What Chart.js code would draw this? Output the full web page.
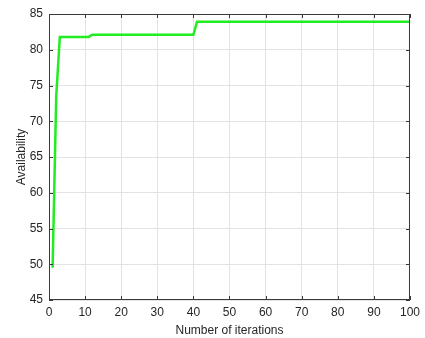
<!DOCTYPE html>
<html>
<head>
<meta charset="utf-8">
<script src="https://cdn.jsdelivr.net/npm/chart.js@4/dist/chart.umd.min.js"></script>
<style>
  html, body { margin: 0; padding: 0; background: #fff; }
  #wrap { width: 425px; height: 338px; }
</style>
</head>
<body>
<div id="wrap"><canvas id="chart"></canvas></div>
<script>
// breakpoints of the convergence curve
const iterations = [1, 2, 3, 11, 12, 40, 41, 100]
const availability = [49.5, 73.5, 81.8, 81.8, 82.1, 82.1, 83.9, 83.9]

const xTicks = [0, 10, 20, 30, 40, 50, 60, 70, 80, 90, 100]
const yTicks = [45, 50, 55, 60, 65, 70, 75, 80, 85]

const axisColor = '#3a3a3a'
const textColor = '#262626'
const gridColor = '#e3e3e3'
const font = { family: '"Liberation Sans", Arial, sans-serif', size: 12 }

// matlab style box: all four edges plus inward tick marks
const boxPlugin = {
  id: 'box',
  afterDraw (chart) {
    const { ctx, chartArea: a, scales } = chart
    ctx.save()
    ctx.strokeStyle = axisColor
    ctx.lineWidth = 1
    ctx.strokeRect(a.left + 0.5, a.top + 0.5, a.right - a.left - 1, a.bottom - a.top - 1)
    ctx.beginPath()
    xTicks.forEach(v => {
      const px = Math.round(scales.x.getPixelForValue(v)) + 0.5
      ctx.moveTo(px, a.bottom); ctx.lineTo(px, a.bottom - 4)
      ctx.moveTo(px, a.top); ctx.lineTo(px, a.top + 4)
    })
    yTicks.forEach(v => {
      const py = Math.round(scales.y.getPixelForValue(v)) + 0.5
      ctx.moveTo(a.left, py); ctx.lineTo(a.left + 4, py)
      ctx.moveTo(a.right, py); ctx.lineTo(a.right - 4, py)
    })
    ctx.stroke()
    ctx.restore()
  }
}

new Chart(document.getElementById('chart'), {
  type: 'line',
  data: {
    datasets: [{
      data: iterations.map((x, i) => ({ x, y: availability[i] })),
      borderColor: '#22ec22',
      borderWidth: 2.5,
      pointRadius: 0,
      tension: 0,
      fill: false
    }]
  },
  options: {
    responsive: true,
    maintainAspectRatio: false,
    animation: false,
    layout: { padding: { top: 14, right: 13, left: 0, bottom: 0 } },
    plugins: {
      legend: { display: false },
      tooltip: { enabled: false }
    },
    scales: {
      x: {
        type: 'linear',
        min: 0,
        max: 100,
        afterFit (scale) { scale.height = 38 },
        afterBuildTicks (scale) { scale.ticks = xTicks.map(value => ({ value })) },
        grid: { color: gridColor, drawTicks: false },
        border: { display: false },
        ticks: { color: textColor, font, padding: 5, maxRotation: 0 },
        title: { display: true, text: 'Number of iterations', color: textColor, font, padding: { top: 3, bottom: 0 } }
      },
      y: {
        min: 45,
        max: 85,
        afterFit (scale) { scale.width = 49 },
        afterBuildTicks (scale) { scale.ticks = yTicks.map(value => ({ value })) },
        grid: { color: gridColor, drawTicks: false },
        border: { display: false },
        ticks: { color: textColor, font, padding: 6 },
        title: { display: true, text: 'Availability', color: textColor, font, padding: { top: 14, bottom: 0 } }
      }
    }
  },
  plugins: [boxPlugin]
})
</script>
</body>
</html>
